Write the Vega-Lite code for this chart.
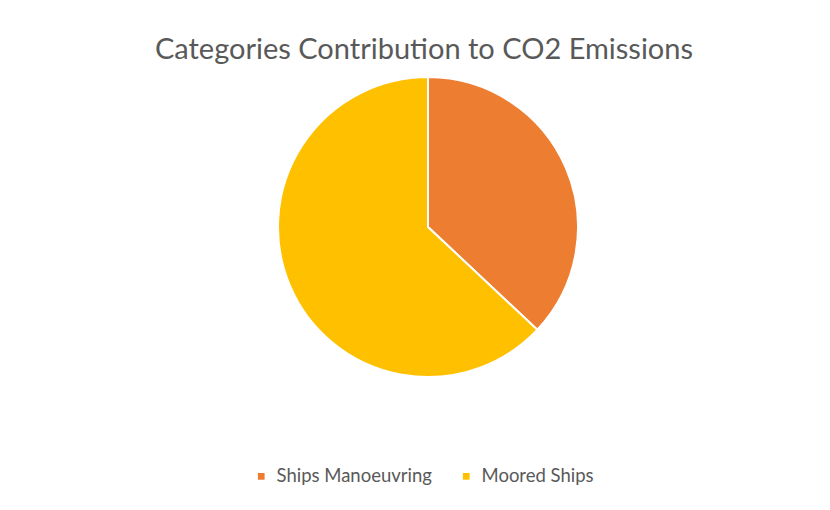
{
  "$schema": "https://vega.github.io/schema/vega-lite/v6.json",
  "width": 300,
  "height": 300,
  "autosize": "none",
  "padding": {"left": 278, "top": 77, "right": 252, "bottom": 133},
  "background": "white",
  "title": {
    "text": "Categories Contribution to CO2 Emissions",
    "font": "Lato",
    "fontSize": 29,
    "fontWeight": "normal",
    "color": "#595959",
    "anchor": "middle",
    "dx": -4,
    "offset": 8
  },
  "data": {
    "values": [
      {"category": "Ships Manoeuvring", "share": 37},
      {"category": "Moored Ships", "share": 63}
    ]
  },
  "mark": {"type": "arc", "radius": 150, "stroke": "white", "strokeWidth": 2},
  "encoding": {
    "theta": {"field": "share", "type": "quantitative", "stack": true},
    "order": {"field": "share", "type": "quantitative", "sort": "ascending"},
    "color": {
      "field": "category",
      "type": "nominal",
      "sort": ["Ships Manoeuvring", "Moored Ships"],
      "scale": {"domain": ["Ships Manoeuvring", "Moored Ships"], "range": ["#ED7D31", "#FFC000"]},
      "legend": {
        "title": null,
        "orient": "none",
        "direction": "horizontal",
        "legendX": -26,
        "legendY": 390,
        "symbolType": "square",
        "symbolSize": 45,
        "symbolStrokeWidth": 0,
        "labelFont": "Lato",
        "labelFontSize": 18.5,
        "labelColor": "#595959",
        "columnPadding": 25,
        "labelOffset": 6
      }
    }
  },
  "config": {"view": {"stroke": null}}
}
